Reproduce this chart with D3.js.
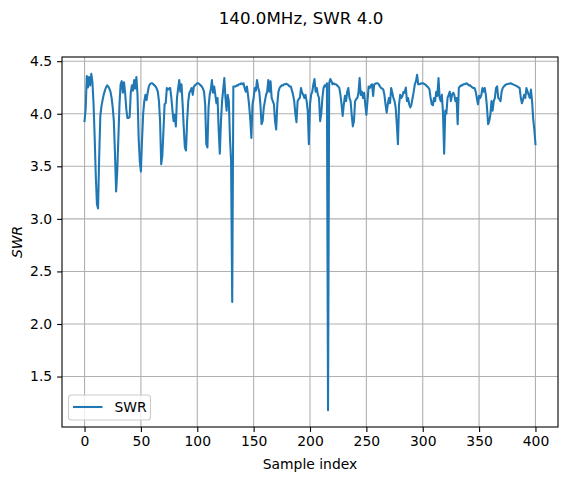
<!DOCTYPE html>
<html>
<head>
<meta charset="utf-8">
<script src="https://cdn.jsdelivr.net/npm/d3@7"></script>
<style>
  body { margin: 0; background: #fff; }
  svg text { font-family: "DejaVu Sans", sans-serif; fill: #000; }
</style>
</head>
<body>
<svg id="chart" width="567" height="480"></svg>
<script>
// SWR readings, one per sample (index 0..400)
const swr = [
  3.93, 4.05, 4.36, 4.25, 4.35, 4.27, 4.38, 4.30, 4.09, 3.77, 3.40, 3.14, 3.10, 3.60, 3.98, 4.07, 4.13, 4.18, 4.22, 4.25,
  4.27, 4.26, 4.24, 4.21, 4.15, 4.06, 3.93, 3.62, 3.26, 3.45, 3.77, 4.09, 4.28, 4.31, 4.20, 4.30, 4.20, 4.05, 3.96, 3.96,
  3.97, 4.20, 4.27, 4.22, 4.32, 4.24, 4.35, 4.18, 3.77, 3.55, 3.45, 3.75, 4.00, 4.12, 4.18, 4.13, 4.20, 4.26, 4.28, 4.29,
  4.29, 4.28, 4.27, 4.26, 4.24, 4.21, 4.12, 3.93, 3.52, 3.60, 3.84, 4.09, 4.10, 4.245, 4.23, 4.24, 4.245, 4.15, 4.03, 3.93,
  3.99, 3.88, 4.15, 4.24, 4.32, 4.21, 4.28, 4.09, 3.87, 3.68, 3.65, 3.93, 4.12, 4.20, 4.22, 4.245, 4.18, 4.26, 4.27, 4.28,
  4.29, 4.29, 4.28, 4.27, 4.26, 4.24, 4.21, 4.09, 3.71, 3.68, 4.06, 4.18, 4.23, 4.32, 4.20, 4.26, 4.18, 4.10, 4.15, 3.84,
  3.62, 3.93, 4.12, 4.23, 4.34, 4.15, 4.03, 4.18, 4.12, 3.77, 3.55, 2.21, 4.26, 4.26, 4.26, 4.27, 4.27, 4.28, 4.28, 4.29,
  4.28, 4.29, 4.245, 4.21, 4.26, 4.18, 4.08, 3.95, 3.77, 4.09, 4.15, 4.245, 4.22, 4.32, 4.25, 4.21, 4.09, 3.90, 3.93, 4.06,
  4.12, 4.18, 4.21, 4.32, 4.21, 4.31, 4.15, 4.12, 4.09, 3.93, 3.85, 4.09, 4.21, 4.245, 4.26, 4.27, 4.27, 4.28, 4.28, 4.285,
  4.28, 4.27, 4.26, 4.26, 4.22, 4.18, 4.12, 4.00, 3.92, 4.12, 4.14, 4.15, 4.245, 4.20, 4.18, 4.15, 4.18, 4.12, 4.03, 3.71,
  4.09, 4.18, 4.21, 4.28, 4.33, 4.21, 4.245, 4.18, 4.15, 3.93, 4.00, 4.15, 4.245, 4.27, 4.26, 4.29, 1.18, 4.29, 4.33, 4.31,
  4.28, 4.29, 4.28, 4.28, 4.27, 4.26, 4.245, 4.18, 4.09, 3.98, 4.09, 4.17, 4.12, 4.21, 4.245, 4.15, 4.12, 3.99, 3.88, 3.93,
  4.12, 4.14, 4.15, 4.20, 4.34, 4.18, 4.21, 4.15, 4.20, 4.09, 3.99, 4.12, 4.26, 4.245, 4.27, 4.28, 4.17, 4.28, 4.285, 4.29,
  4.29, 4.28, 4.26, 4.245, 4.24, 4.23, 4.18, 4.09, 4.01, 4.09, 4.15, 4.10, 4.245, 4.20, 4.15, 4.12, 4.06, 3.90, 3.71, 4.09,
  4.18, 4.15, 4.17, 4.21, 4.20, 4.25, 4.12, 4.15, 4.09, 4.06, 4.09, 4.15, 4.21, 4.28, 4.31, 4.37, 4.28, 4.28, 4.285, 4.29,
  4.29, 4.285, 4.28, 4.27, 4.26, 4.25, 4.23, 4.15, 4.09, 4.08, 4.15, 4.12, 4.21, 4.17, 4.34, 4.15, 4.12, 4.18, 4.00, 3.62,
  4.03, 4.00, 4.15, 4.18, 4.21, 4.12, 4.18, 4.20, 4.18, 4.12, 4.15, 3.90, 4.245, 4.26, 4.27, 4.27, 4.28, 4.28, 4.285, 4.29,
  4.28, 4.27, 4.27, 4.26, 4.25, 4.245, 4.245, 4.21, 4.15, 4.09, 4.17, 4.15, 4.18, 4.245, 4.21, 4.245, 4.18, 4.06, 3.90, 3.93,
  3.99, 4.12, 4.03, 4.12, 4.15, 4.245, 4.26, 4.15, 4.14, 4.12, 4.21, 4.245, 4.26, 4.27, 4.28, 4.28, 4.285, 4.285, 4.29, 4.285,
  4.28, 4.275, 4.27, 4.265, 4.26, 4.25, 4.245, 4.15, 4.10, 4.135, 4.18, 4.15, 4.245, 4.21, 4.18, 4.15, 4.23, 4.12, 3.95, 3.85,
  3.71
];
const xTicks = [0, 50, 100, 150, 200, 250, 300, 350, 400];
const yTicks = [1.5, 2.0, 2.5, 3.0, 3.5, 4.0, 4.5];
const title = '140.0MHz, SWR 4.0';
const xLabel = 'Sample index';
const yLabel = 'SWR';
const seriesName = 'SWR';

const lineColor = '#1f77b4';
const margin = { left: 62, right: 9, top: 57, bottom: 53 };

const svg = d3.select('#chart');
const width = +svg.attr('width');
const height = +svg.attr('height');
const innerWidth = width - margin.left - margin.right;
const innerHeight = height - margin.top - margin.bottom;

svg.append('rect').attr('width', width).attr('height', height).attr('fill', '#fff');

// matplotlib style 5% margins
const xExt = [0, swr.length - 1];
const xPad = (xExt[1] - xExt[0]) * 0.05;
const yExt = d3.extent(swr);
const yPad = (yExt[1] - yExt[0]) * 0.05;

const xScale = d3.scaleLinear()
    .domain([xExt[0] - xPad, xExt[1] + xPad])
    .range([0, innerWidth]);
const yScale = d3.scaleLinear()
    .domain([yExt[0] - yPad, yExt[1] + yPad])
    .range([innerHeight, 0]);

const g = svg.append('g')
    .attr('transform', `translate(${margin.left},${margin.top})`);

/* grid */
const grid = g.append('g').attr('class', 'grid');
grid.selectAll('line.gx').data(xTicks)
    .enter().append('line')
      .attr('x1', d => xScale(d)).attr('x2', d => xScale(d))
      .attr('y1', 0).attr('y2', innerHeight)
      .attr('stroke', '#b0b0b0').attr('stroke-width', 1.1);
grid.selectAll('line.gy').data(yTicks)
    .enter().append('line')
      .attr('y1', d => yScale(d)).attr('y2', d => yScale(d))
      .attr('x1', 0).attr('x2', innerWidth)
      .attr('stroke', '#b0b0b0').attr('stroke-width', 1.1);

/* series line */
const line = d3.line()
    .x((d, i) => xScale(i))
    .y(d => yScale(d));

g.append('path')
    .datum(swr)
    .attr('d', line)
    .attr('fill', 'none')
    .attr('stroke', lineColor)
    .attr('stroke-width', 2.08)
    .attr('stroke-linejoin', 'round')
    .attr('stroke-linecap', 'square');

/* axes */
const xAxis = d3.axisBottom(xScale)
    .tickValues(xTicks)
    .tickFormat(d3.format('d'))
    .tickSize(4.9)
    .tickPadding(4.2);
const yAxis = d3.axisLeft(yScale)
    .tickValues(yTicks)
    .tickFormat(d3.format('.1f'))
    .tickSize(4.9)
    .tickPadding(4.9);

const xAxisG = g.append('g')
    .attr('transform', `translate(0,${innerHeight})`)
    .call(xAxis);
const yAxisG = g.append('g').call(yAxis);

[xAxisG, yAxisG].forEach(a => {
    a.select('.domain').remove();
    a.selectAll('.tick line').attr('stroke', '#000').attr('stroke-width', 1.1);
    a.selectAll('.tick text')
        .style('font-family', '"DejaVu Sans", sans-serif')
        .style('font-size', '13.9px')
        .attr('fill', '#000');
});

// frame
g.append('rect')
    .attr('width', innerWidth)
    .attr('height', innerHeight)
    .attr('fill', 'none')
    .attr('stroke', '#000')
    .attr('stroke-width', 1.1);

/* labels */
svg.append('text')
    .attr('x', margin.left + innerWidth / 2)
    .attr('y', 469)
    .attr('text-anchor', 'middle')
    .style('font-size', '13.9px')
    .text(xLabel);

svg.append('text')
    .attr('transform', `translate(22,${margin.top + innerHeight / 2}) rotate(-90)`)
    .attr('text-anchor', 'middle')
    .style('font-size', '13.9px')
    .style('font-style', 'italic')
    .text(yLabel);

svg.append('text')
    .attr('x', 301)
    .attr('y', 24)
    .attr('text-anchor', 'middle')
    .style('font-size', '16.7px')
    .text(title);

/* legend */
const legend = svg.append('g')
    .attr('transform', 'translate(68.5,395)');
legend.append('rect')
    .attr('width', 82)
    .attr('height', 25)
    .attr('rx', 3)
    .attr('fill', '#fff')
    .attr('fill-opacity', 0.8)
    .attr('stroke', '#cccccc')
    .attr('stroke-width', 1.1);
legend.append('line')
    .attr('x1', 4.5).attr('x2', 34)
    .attr('y1', 12).attr('y2', 12)
    .attr('stroke', lineColor)
    .attr('stroke-width', 2.08);
legend.append('text')
    .attr('x', 46)
    .attr('y', 17)
    .style('font-size', '13.9px')
    .text(seriesName);
</script>
</body>
</html>
